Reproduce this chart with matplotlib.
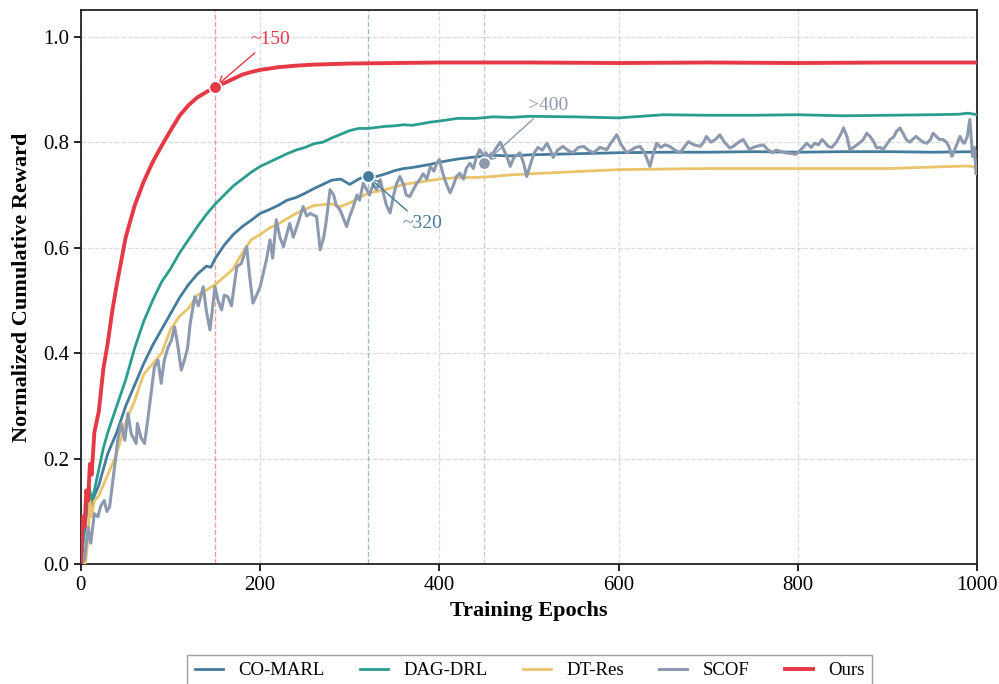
import matplotlib
matplotlib.use("Agg")
import matplotlib.pyplot as plt

plt.rcParams['font.family'] = 'serif'
plt.rcParams['font.serif'] = ['Liberation Serif', 'DejaVu Serif']

# colours
c_co = '#457b9d'
c_dag = '#2a9d8f'
c_dt = '#e9c46a'
c_scof = '#8d99ae'
c_ours = '#e63946'

# Ours
ours_x = [0, 2, 4, 6, 8, 10, 12, 15, 20, 25, 30, 35, 40, 50, 60, 70, 80, 90, 100, 110, 120, 130,
          140, 150, 160, 170, 180, 190, 200, 220, 240, 260, 280, 300, 350, 400, 500, 600, 700,
          800, 900, 1000]
ours_y = [0.0, 0.09, 0.07, 0.14, 0.12, 0.19, 0.17, 0.25, 0.29, 0.37, 0.42, 0.48, 0.53, 0.62, 0.68,
          0.725, 0.762, 0.793, 0.822, 0.85, 0.87, 0.885, 0.895, 0.905, 0.912, 0.92, 0.928, 0.933,
          0.937, 0.942, 0.945, 0.947, 0.948, 0.949, 0.95, 0.951, 0.951, 0.95, 0.951, 0.95, 0.951,
          0.951]

# DAG-DRL
dag_x = [0, 3, 6, 9, 12, 15, 20, 25, 30, 40, 50, 60, 70, 80, 90, 100, 110, 120, 130, 140, 150,
         160, 170, 180, 190, 200, 210, 220, 230, 240, 250, 260, 270, 280, 290, 300, 310, 320, 330,
         340, 350, 360, 370, 380, 390, 400, 420, 440, 460, 480, 500, 550, 600, 650, 700, 750, 800,
         850, 900, 950, 980, 990, 1000]
dag_y = [0.0, 0.06, 0.12, 0.15, 0.12, 0.14, 0.18, 0.22, 0.25, 0.30, 0.35, 0.41, 0.46, 0.50, 0.535,
         0.56, 0.59, 0.615, 0.64, 0.663, 0.683, 0.70, 0.717, 0.73, 0.743, 0.754, 0.762, 0.77, 0.778,
         0.785, 0.79, 0.797, 0.80, 0.808, 0.815, 0.822, 0.826, 0.826, 0.828, 0.83, 0.831, 0.833,
         0.832, 0.835, 0.838, 0.84, 0.845, 0.845, 0.848, 0.847, 0.849, 0.848, 0.846, 0.852, 0.851,
         0.851, 0.852, 0.85, 0.851, 0.852, 0.853, 0.855, 0.852]

# CO-MARL
co_x = [0, 3, 6, 9, 12, 15, 20, 25, 30, 40, 50, 60, 70, 80, 90, 100, 110, 120, 130, 140, 145, 150,
        160, 170, 180, 190, 200, 210, 220, 230, 240, 250, 260, 270, 280, 290, 300, 310, 320, 330,
        340, 350, 360, 370, 380, 390, 400, 420, 440, 460, 480, 500, 550, 600, 650, 700, 750, 800,
        850, 900, 950, 1000]
co_y = [0.0, 0.05, 0.09, 0.12, 0.11, 0.13, 0.15, 0.18, 0.21, 0.25, 0.30, 0.34, 0.38, 0.415, 0.445,
        0.475, 0.505, 0.53, 0.55, 0.565, 0.563, 0.58, 0.605, 0.625, 0.64, 0.652, 0.665, 0.672, 0.68,
        0.69, 0.695, 0.703, 0.712, 0.72, 0.728, 0.73, 0.72, 0.73, 0.738, 0.735, 0.74, 0.746, 0.75,
        0.752, 0.755, 0.758, 0.762, 0.768, 0.772, 0.775, 0.774, 0.776, 0.778, 0.78, 0.781, 0.781,
        0.782, 0.781, 0.782, 0.782, 0.781, 0.782]

# DT-Res
dt_x = [0, 5, 8, 10, 12, 15, 20, 30, 40, 50, 60, 70, 80, 90, 100, 110, 120, 130, 140, 150, 160,
        170, 180, 190, 200, 210, 220, 240, 260, 280, 290, 300, 320, 340, 360, 380, 400, 420, 440,
        460, 480, 500, 550, 600, 700, 800, 900, 990, 1000]
dt_y = [0.0, 0.0, 0.05, 0.12, 0.09, 0.12, 0.13, 0.17, 0.21, 0.27, 0.31, 0.36, 0.38, 0.40, 0.445,
        0.47, 0.485, 0.51, 0.52, 0.53, 0.545, 0.56, 0.59, 0.615, 0.625, 0.637, 0.645, 0.665, 0.68,
        0.683, 0.678, 0.685, 0.703, 0.71, 0.72, 0.725, 0.73, 0.733, 0.733, 0.735, 0.738, 0.74,
        0.744, 0.748, 0.75, 0.75, 0.75, 0.755, 0.752]

# SCOF
scof_x = [0, 4, 8, 11, 15, 19, 22, 26, 29, 32, 37.6, 41, 45, 49, 52.5, 56, 61.7, 63, 67, 71, 75,
          82, 86, 89.6, 93, 97, 101, 104.5, 108, 112, 116, 119, 122, 127, 131, 136.5, 140, 144,
          149.6, 153, 157, 160, 164, 168, 174, 179, 185, 188, 192, 196, 200, 207, 211, 214, 218,
          222, 226, 233, 237, 241, 248, 252, 256, 263, 267, 271, 274, 278, 282, 285, 289, 292,
          296.5, 300, 304, 308, 311, 315, 319, 322, 326, 330, 334, 338, 341, 345, 349, 352, 356,
          360, 363, 367, 371, 374, 378, 382, 386, 390, 394, 397, 400, 404, 408, 412, 416, 419, 423,
          427, 430, 434, 438, 441, 445, 449, 452, 456, 460, 464, 468, 472, 476, 479, 483, 486, 490,
          494, 497.5, 502, 506, 510, 515, 520, 524, 527, 532, 538, 543, 549, 555, 561, 566, 572,
          579, 587, 592, 598, 603, 609, 614, 619, 624, 629, 635, 639, 642.5, 647, 652, 657, 663,
          668.5, 673, 678, 684, 691, 695, 698, 703, 708, 713, 718, 724, 728, 734, 739, 746, 750,
          756, 761.5, 767, 772, 776, 780, 786, 791, 798, 803, 810, 815, 819, 823, 827, 830, 834,
          838, 843, 848, 851, 855, 858, 862, 866, 870, 873, 877, 881, 885, 888, 892, 895, 899, 903,
          907, 910, 914, 918, 921, 925, 928, 932, 936, 940, 944, 948, 951, 955, 958, 962, 966, 969,
          972, 976, 981, 984, 986, 989, 992, 995, 997, 999, 1000]
scof_y = [0.0, 0.01, 0.07, 0.04, 0.096, 0.09, 0.11, 0.121, 0.10, 0.109, 0.185, 0.235, 0.267, 0.235,
          0.286, 0.248, 0.229, 0.267, 0.24, 0.229, 0.279, 0.374, 0.387, 0.343, 0.387, 0.41, 0.425,
          0.45, 0.416, 0.368, 0.39, 0.41, 0.457, 0.507, 0.49, 0.526, 0.48, 0.444, 0.526, 0.50, 0.482,
          0.51, 0.507, 0.49, 0.564, 0.57, 0.602, 0.55, 0.495, 0.51, 0.526, 0.577, 0.615, 0.58,
          0.653, 0.62, 0.602, 0.646, 0.62, 0.64, 0.678, 0.66, 0.665, 0.659, 0.596, 0.62, 0.653,
          0.71, 0.70, 0.68, 0.672, 0.66, 0.64, 0.66, 0.678, 0.70, 0.69, 0.722, 0.71, 0.70, 0.72,
          0.71, 0.729, 0.70, 0.68, 0.666, 0.70, 0.72, 0.735, 0.72, 0.70, 0.697, 0.71, 0.72, 0.729,
          0.74, 0.73, 0.754, 0.745, 0.76, 0.767, 0.74, 0.72, 0.704, 0.72, 0.735, 0.741, 0.73, 0.75,
          0.76, 0.75, 0.77, 0.786, 0.775, 0.78, 0.767, 0.78, 0.79, 0.80, 0.785, 0.77, 0.754, 0.77,
          0.775, 0.78, 0.76, 0.735, 0.76, 0.78, 0.79, 0.785, 0.798, 0.785, 0.771, 0.785, 0.792,
          0.785, 0.78, 0.79, 0.792, 0.785, 0.78, 0.79, 0.786, 0.80, 0.814, 0.795, 0.78, 0.785,
          0.79, 0.792, 0.78, 0.754, 0.78, 0.798, 0.79, 0.795, 0.792, 0.785, 0.78, 0.79, 0.801,
          0.795, 0.792, 0.80, 0.811, 0.80, 0.805, 0.814, 0.80, 0.789, 0.792, 0.80, 0.805, 0.786,
          0.79, 0.793, 0.795, 0.785, 0.78, 0.785, 0.783, 0.78, 0.779, 0.777, 0.785, 0.798, 0.79,
          0.798, 0.795, 0.805, 0.80, 0.792, 0.79, 0.80, 0.815, 0.827, 0.81, 0.786, 0.79, 0.795,
          0.80, 0.805, 0.817, 0.81, 0.80, 0.789, 0.79, 0.786, 0.795, 0.805, 0.81, 0.82, 0.827,
          0.815, 0.805, 0.80, 0.805, 0.811, 0.805, 0.80, 0.798, 0.805, 0.817, 0.81, 0.805, 0.805,
          0.80, 0.79, 0.773, 0.79, 0.811, 0.80, 0.798, 0.81, 0.843, 0.773, 0.79, 0.74, 0.745]

# convergence markers
conv_ours = (150, 0.905)
conv_co = (320, 0.735)
conv_scof = (450, 0.76)

fig = plt.figure(figsize=(9.99, 6.84), dpi=100)
ax = fig.add_axes([0.081, 0.175, 0.897, 0.81])

ax.plot(co_x, co_y, color=c_co, lw=2, label='CO-MARL', zorder=3)
ax.plot(dag_x, dag_y, color=c_dag, lw=2, label='DAG-DRL', zorder=3)
ax.plot(dt_x, dt_y, color=c_dt, lw=2, label='DT-Res', zorder=3)
ax.plot(scof_x, scof_y, color=c_scof, lw=2.2, label='SCOF', zorder=3)
ax.plot(ours_x, ours_y, color=c_ours, lw=2.8, label='Ours', zorder=4)

# vertical convergence lines
for (cx, cy), c in [(conv_ours, c_ours), (conv_co, c_co), (conv_scof, c_scof)]:
    ax.axvline(cx, color=c, ls='--', lw=1, alpha=0.5, zorder=1)
    ax.plot(cx, cy, 'o', color=c, ms=9, mec='white', mew=1.2, zorder=5)

ax.annotate('~150', xy=conv_ours, xytext=(211, 0.994), color=c_ours, fontsize=14,
            ha='center', va='center',
            arrowprops=dict(arrowstyle='->', color=c_ours, lw=1))
ax.annotate('~320', xy=conv_co, xytext=(381, 0.645), color=c_co, fontsize=14,
            ha='center', va='center',
            arrowprops=dict(arrowstyle='->', color=c_co, lw=1))
ax.annotate('>400', xy=conv_scof, xytext=(521, 0.869), color=c_scof, fontsize=14,
            ha='center', va='center',
            arrowprops=dict(arrowstyle='->', color=c_scof, lw=1))

ax.set_xlim(0, 1000)
ax.set_ylim(0, 1.05)
ax.set_xticks([0, 200, 400, 600, 800, 1000])
ax.set_yticks([0.0, 0.2, 0.4, 0.6, 0.8, 1.0])
ax.tick_params(labelsize=15, length=5, width=1.2, direction='out')
ax.grid(True, ls='--', color='#cccccc', lw=0.9, alpha=0.7)
ax.set_axisbelow(True)
for s in ax.spines.values():
    s.set_linewidth(1.3)
    s.set_color('#222222')

ax.set_xlabel('Training Epochs', fontsize=16, fontweight='bold', labelpad=4)
ax.set_ylabel('Normalized Cumulative Reward', fontsize=16, fontweight='bold', labelpad=8)

fig.legend(loc='upper center', bbox_to_anchor=(0.53, 0.043), ncol=5, fontsize=13.5,
           frameon=True, fancybox=False, edgecolor='#888888', handlelength=1.5,
           columnspacing=1.9, borderpad=0.4, borderaxespad=0)

fig.savefig('out.png', dpi=100)
